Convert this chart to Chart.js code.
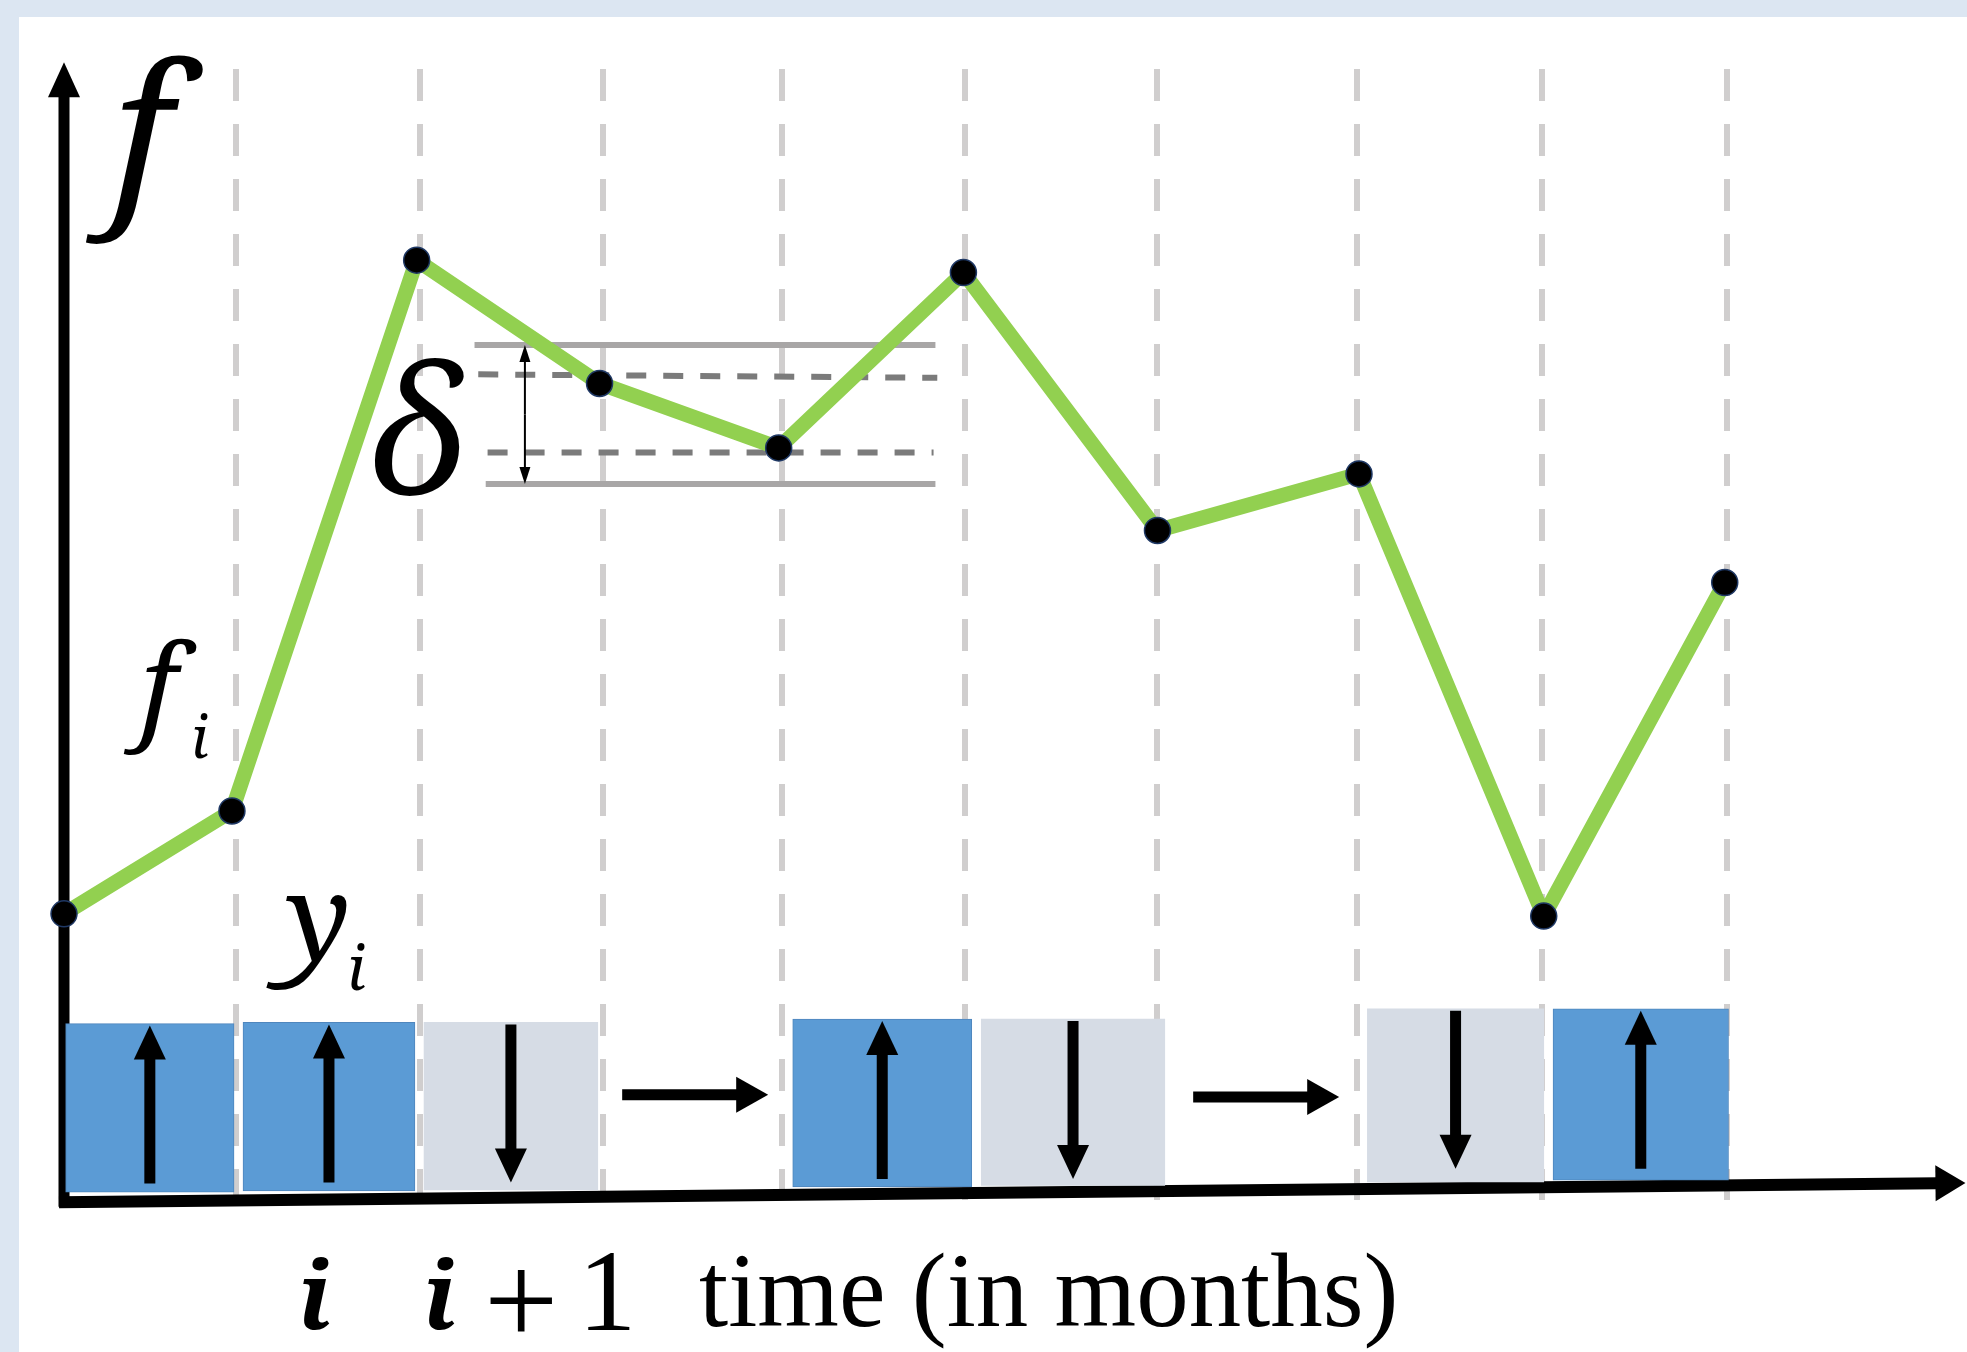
<!DOCTYPE html>
<html>
<head>
<meta charset="utf-8">
<script src="https://cdn.jsdelivr.net/npm/chart.js@4.4.1/dist/chart.umd.min.js"></script>
<style>
html,body{margin:0;padding:0;background:#ffffff;overflow:hidden}
#wrap{width:1967px;height:1352px;position:relative}
canvas{display:block}
</style>
</head>
<body>
<div id="wrap"><canvas id="c" width="1967" height="1352"></canvas></div>
<script>
// ---------- data ----------
// time (in months), position of each sample f
const monthX  = [0, 0.90, 1.89, 2.87, 3.83, 4.82, 5.86, 6.94, 7.93, 8.90];
// value of f at each month
const fValues = [25.3, 34.4, 83.1, 72.2, 66.5, 82.0, 59.2, 64.2, 25.1, 54.6];
// dashed month separators
const monthTicks = [0.92, 1.91, 2.89, 3.85, 4.83, 5.86, 6.93, 7.92, 8.91];
// label cells y_i under the curve
const cellX      = [0.46, 1.41, 2.40, 3.37, 4.39, 5.39, 6.46, 7.46, 8.45];
const cellKind   = ['up', 'up', 'down', 'same', 'up', 'down', 'same', 'down', 'up'];
const cellBottom = [0.7, 0.8, 0.9, null, 1.15, 1.3, null, 1.6, 1.75];
const cellTop    = [15.6, 15.7, 15.7, null, 16.0, 16.0, null, 16.9, 16.9];
const transitionLevel = [9.3, 9.1];
// delta band
const deltaOuterX = [2.20, 4.67];
const deltaOuterLowX = [2.26, 4.67];
const deltaOuterTop = 75.6;
const deltaOuterBottom = 63.3;
const deltaInnerX = [2.22, 4.68];
const deltaInnerTop = [73.0, 72.7];
const deltaInnerLowX = [2.27, 4.66];
const deltaInnerBottom = 66.1;
const deltaArrowX = 2.47;
// axes (slightly tilted time axis)
const timeAxisStart = {x: 0, y: -0.2};
const timeAxisEnd   = {x: 10.19, y: 1.5};
const fAxisStart = {x: 0, y: -0.6};
const fAxisEnd   = {x: 0, y: 100.6};

// ---------- helpers ----------
function arrow(ctx, x1, y1, x2, y2, shaftW, headL, headW, color) {
  const ang = Math.atan2(y2 - y1, x2 - x1);
  const bx = x2 - Math.cos(ang) * headL, by = y2 - Math.sin(ang) * headL;
  ctx.save();
  ctx.strokeStyle = color; ctx.fillStyle = color;
  ctx.lineWidth = shaftW; ctx.lineCap = 'butt';
  ctx.beginPath(); ctx.moveTo(x1, y1); ctx.lineTo(bx + Math.cos(ang) * 2, by + Math.sin(ang) * 2); ctx.stroke();
  const px = -Math.sin(ang) * headW / 2, py = Math.cos(ang) * headW / 2;
  ctx.beginPath();
  ctx.moveTo(x2, y2);
  ctx.lineTo(bx + px, by + py);
  ctx.lineTo(bx - px, by - py);
  ctx.closePath(); ctx.fill();
  ctx.restore();
}
// place text so that its ink box starts at (left, top) with the given ink height or width
function fitText(ctx, s, family, style, box) {
  ctx.save();
  ctx.font = style + ' 100px ' + family;
  let m = ctx.measureText(s);
  const h = m.actualBoundingBoxAscent + m.actualBoundingBoxDescent;
  const w = m.actualBoundingBoxLeft + m.actualBoundingBoxRight;
  const size = box.width ? 100 * box.width / w : 100 * box.height / h;
  ctx.font = style + ' ' + size.toFixed(2) + 'px ' + family;
  m = ctx.measureText(s);
  ctx.fillStyle = '#000'; ctx.textAlign = 'left'; ctx.textBaseline = 'alphabetic';
  ctx.fillText(s, box.left + m.actualBoundingBoxLeft, box.top + m.actualBoundingBoxAscent);
  ctx.restore();
}

const MATH = '"Noto Serif", serif';
const SERIF = '"Liberation Serif", "Noto Serif", serif';

const schematic = {
  id: 'schematic',
  beforeDraw(chart) {
    const {ctx, width, height} = chart;
    ctx.save();
    ctx.fillStyle = '#dce6f2';
    ctx.fillRect(0, 0, width, height);
    ctx.fillStyle = '#ffffff';
    ctx.fillRect(19, 17, width - 19, height - 17);
    ctx.restore();
  },
  beforeDatasetsDraw(chart) {
    const {ctx} = chart;
    const xs = chart.scales.x, ys = chart.scales.y;
    arrow(ctx, xs.getPixelForValue(fAxisStart.x), ys.getPixelForValue(fAxisStart.y),
               xs.getPixelForValue(fAxisEnd.x), ys.getPixelForValue(fAxisEnd.y), 11, 35, 32, '#000');
    arrow(ctx, xs.getPixelForValue(timeAxisStart.x) - 5, ys.getPixelForValue(timeAxisStart.y),
               xs.getPixelForValue(timeAxisEnd.x), ys.getPixelForValue(timeAxisEnd.y), 12, 30, 36, '#000');
  },
  afterDatasetsDraw(chart) {
    const {ctx} = chart;
    const xs = chart.scales.x, ys = chart.scales.y;
    const meta = chart.getDatasetMeta(2);
    let t = 0;
    meta.data.forEach((el, i) => {
      const k = cellKind[i];
      if (k === 'up') {
        arrow(ctx, el.x, el.y + 160, el.x, el.y + 2, 11, 34, 32, '#000');
      } else if (k === 'down') {
        arrow(ctx, el.x, el.y + 2, el.x, el.y + 160, 11, 34, 32, '#000');
      } else {
        const y = ys.getPixelForValue(transitionLevel[t++]);
        arrow(ctx, el.x - 73, y, el.x + 73, y, 11, 32, 36, '#000');
      }
    });
    // delta double arrow
    const dx = xs.getPixelForValue(deltaArrowX);
    const dTop = ys.getPixelForValue(deltaOuterTop), dBot = ys.getPixelForValue(deltaOuterBottom);
    const mid = (dTop + dBot) / 2;
    arrow(ctx, dx, mid, dx, dTop, 2, 17, 11, '#000');
    arrow(ctx, dx, mid, dx, dBot, 2, 17, 11, '#000');

    // math labels
    fitText(ctx, 'f', MATH, 'italic', {left: 85, top: 55, height: 190});
    fitText(ctx, 'f', MATH, 'italic', {left: 123, top: 638, height: 118});
    fitText(ctx, 'i', MATH, 'italic', {left: 194, top: 713, height: 45});
    fitText(ctx, 'y', MATH, 'italic', {left: 266, top: 895, height: 96});
    fitText(ctx, 'i', MATH, 'italic', {left: 350, top: 943, height: 48});
    fitText(ctx, 'δ', MATH, 'italic', {left: 373, top: 358, height: 139});
    // time axis labels
    fitText(ctx, 'i', MATH, 'italic bold', {left: 303, top: 1257, height: 73});
    fitText(ctx, 'i', MATH, 'italic bold', {left: 428, top: 1257, height: 73});
    fitText(ctx, '+', SERIF, 'normal', {left: 490, top: 1270, height: 62});
    fitText(ctx, '1', SERIF, 'normal', {left: 588, top: 1253, height: 77});
    fitText(ctx, 'time (in months)', SERIF, 'normal', {left: 700, top: 1252, width: 695});
  }
};

const fSeries = monthX.map((x, i) => ({x: x, y: fValues[i]}));
const cells = cellX.map((x, i) => ({x: x, y: cellKind[i] === 'same' ? null : [cellBottom[i], cellTop[i]]}));

new Chart(document.getElementById('c'), {
  type: 'line',
  data: {
    datasets: [
      {
        type: 'line', label: 'f', data: fSeries, order: 0, clip: false,
        borderColor: '#92d050', borderWidth: 15, borderJoinStyle: 'round', tension: 0, fill: false,
        pointRadius: 13, pointBackgroundColor: '#000000', pointBorderColor: '#1f3864', pointBorderWidth: 1.5
      },
      {
        type: 'line', label: 'delta band', order: 1, clip: false, fill: false, tension: 0,
        data: [
          {x: deltaOuterX[0], y: deltaOuterTop}, {x: deltaOuterX[1], y: deltaOuterTop}, {x: NaN, y: NaN},
          {x: deltaOuterLowX[0], y: deltaOuterBottom}, {x: deltaOuterLowX[1], y: deltaOuterBottom}
        ],
        spanGaps: false, borderColor: '#a8a6a6', borderWidth: 6, pointRadius: 0
      },
      {
        type: 'bar', label: 'y', data: cells, order: 3, clip: false,
        barThickness: 'flex', barPercentage: 0.95, categoryPercentage: 1,
        backgroundColor: cellKind.map(k => k === 'up' ? '#5b9bd5' : (k === 'down' ? '#d6dce5' : 'rgba(0,0,0,0)')),
        borderColor: cellKind.map(k => k === 'up' ? '#4f86bd' : 'rgba(0,0,0,0)'),
        borderWidth: cellKind.map(k => k === 'up' ? 1 : 0),
        borderSkipped: false
      },
      {
        type: 'line', label: 'delta inner', order: 2, clip: false, fill: false, tension: 0,
        data: [
          {x: deltaInnerX[0], y: deltaInnerTop[0]}, {x: deltaInnerX[1], y: deltaInnerTop[1]}, {x: NaN, y: NaN},
          {x: deltaInnerLowX[0], y: deltaInnerBottom}, {x: deltaInnerLowX[1], y: deltaInnerBottom}
        ],
        spanGaps: false, borderColor: '#7b7b7b', borderWidth: 6, borderDash: [20, 17], pointRadius: 0
      }
    ]
  },
  options: {
    responsive: false,
    animation: false,
    devicePixelRatio: 1,
    layout: {padding: {left: 64, right: 37, top: 69, bottom: 152}},
    plugins: {legend: {display: false}, tooltip: {enabled: false}},
    events: [],
    scales: {
      x: {
        type: 'linear', min: 0, max: 10, offset: false, display: true,
        afterBuildTicks: (s) => { s.ticks = monthTicks.map(v => ({value: v})); },
        ticks: {display: false},
        grid: {color: '#d0cece', lineWidth: 6, drawTicks: false, offset: false},
        border: {display: false, dash: [32, 23]}
      },
      y: {type: 'linear', min: 0, max: 100, display: false}
    }
  },
  plugins: [schematic]
});
</script>
</body>
</html>
